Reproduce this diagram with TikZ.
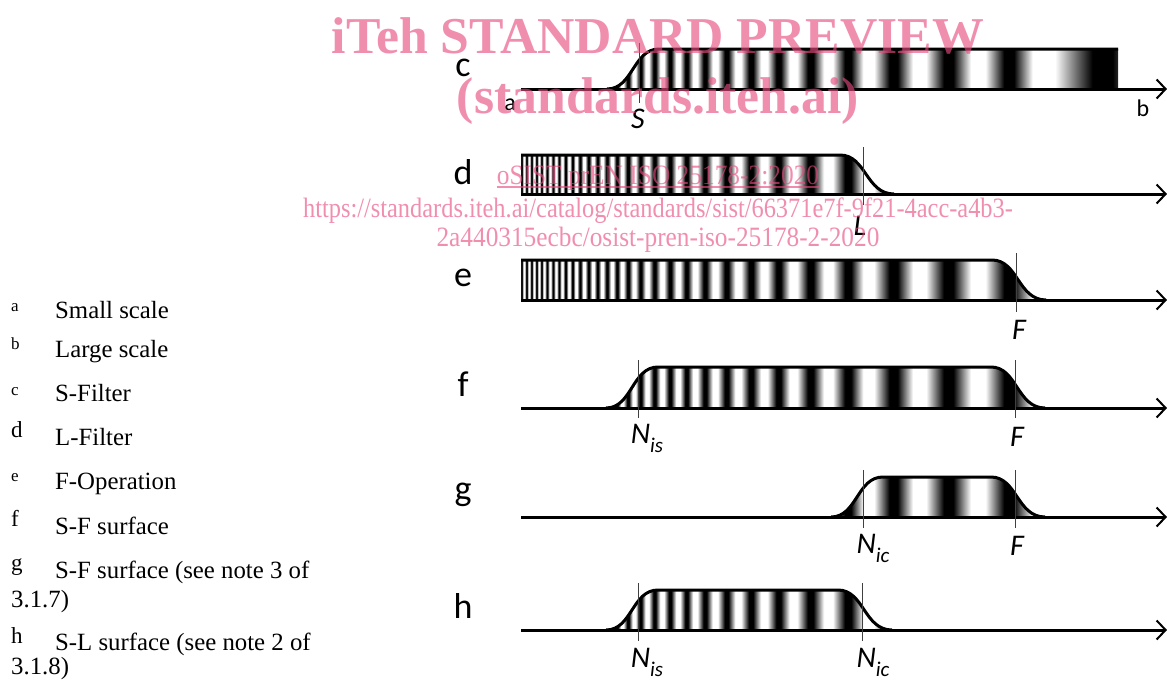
\documentclass[tikz,border=0pt]{standalone}
\usepackage{xcolor}
\usepackage{graphicx}
\usepackage{fontspec}
\usepackage{tikz}
\usetikzlibrary{arrows.meta}
\setmainfont{Liberation Serif}
\newfontfamily\labelfont{Carlito}
\definecolor{MarkPink}{HTML}{E84C7F}
\pgfdeclarehorizontalshading{period}{100bp}{color(0bp)=(white); color(31bp)=(white); color(46bp)=(black); color(54bp)=(black); color(69bp)=(white); color(100bp)=(white)}
\tikzset{
  axisline/.style={line width=3pt, -{Straight Barb[length=9pt,width=19pt,line width=2pt]}},
  profile/.style={line width=3pt, line join=round},
  tickline/.style={line width=0.7pt, black!75},
  panelname/.style={font=\labelfont\fontsize{36}{36}\selectfont, inner sep=0pt},
  scalename/.style={font=\labelfont\fontsize{24}{24}\selectfont, inner sep=0pt},
  ticklabel/.style={font=\labelfont\itshape\fontsize{30}{30}\selectfont, inner sep=0pt},
  keyletter/.style={anchor=base west, inner sep=0pt},
  keytext/.style={anchor=base west, inner sep=0pt, font=\fontsize{24.8}{24.8}\selectfont},
  markbig/.style={MarkPink, text opacity=0.63, inner sep=0pt, anchor=base, font=\bfseries\fontsize{51.7}{51.7}\selectfont},
  marksmall/.style={MarkPink, text opacity=0.63, inner sep=0pt, anchor=base, font=\fontsize{28}{28}\selectfont},
}
\newcommand{\riseup}[1]{(#1-32,\ybase) .. controls (#1-6,\ybase) and (#1-6,\ytop) .. (#1+20,\ytop)}
\newcommand{\falldown}[1]{(#1-24,\ytop) .. controls (#1+2,\ytop) and (#1+2,\ybase) .. (#1+30,\ybase)}
\newcommand{\subis}[1]{N\raisebox{-0.3em}{\fontsize{21}{21}\selectfont #1}}
% #1 top, #2 base, #3 region of the surface, #4 its outline
\newcommand{\surface}[4]{
  \def\ytop{#1}\def\ybase{#2}
  \begin{scope}
    \clip #3;
    \foreach \xw [remember=\xw as \xp (initially 519)] in {524,529,534,539,544,550,556,562,569,576,584,593,602,612,622,634,647,662,678,695,715,738,764,793,828,868,919,978,1040,1165}{
      \shade[shading=period] (\xp,#1) rectangle (\xw,#2);
    }
  \end{scope}
  \draw[profile] #4;
}

\begin{document}
\begin{tikzpicture}[x=1pt,y=-1pt]
  \useasboundingbox (0,0) rectangle (1167,680);

  % key
  \foreach \nm/\sz/\ly/\ty/\txt in {a/17/311/318/Small scale, b/17/349/357/Large scale, c/17/395/401/S-Filter, d/23/437/445/L-Filter, e/17/481/489/F-Operation, f/23/526/534/S-F surface, g/23/570/578/S-F surface (see note 3 of, h/23/643/650/S-L surface (see note 2 of}{
    \node[keyletter, font=\fontsize{\sz}{\sz}\selectfont] (key\nm) at (11,\ly) {\nm};
    \node[keytext] (text\nm) at (55,\ty) {\txt};
  }
  \node[keytext] (textgmore) at (11,607) {3.1.7)};
  \node[keytext] (texthmore) at (11,674) {3.1.8)};

  % surfaces
  \surface{49}{89}{\riseup{639} -- (1118,\ytop) -- (1118,\ybase)}{\riseup{639} -- (1118,\ytop)}
  \surface{155}{194}{(521,\ybase) -- (521,\ytop) -- \falldown{864}}{(521,\ytop) -- \falldown{864}}
  \surface{260}{300}{(521,\ybase) -- (521,\ytop) -- \falldown{1016}}{(521,\ytop) -- \falldown{1016}}
  \surface{367}{408}{\riseup{638} -- \falldown{1015}}{\riseup{638} -- \falldown{1015}}
  \surface{477}{517}{\riseup{863} -- \falldown{1015}}{\riseup{863} -- \falldown{1015}}
  \surface{590}{630}{\riseup{638} -- \falldown{862}}{\riseup{638} -- \falldown{862}}

  % axes
  \foreach \nm/\yy in {c/89,d/194,e/300,f/408,g/517,h/630}{
    \coordinate (\nm start) at (521,\yy);
    \coordinate (\nm end) at (1167,\yy);
    \draw[axisline] (\nm start) -- (\nm end);
  }

  % ticks
  \foreach \nm/\xx/\ya/\yb in {cs/639/43/103, dl/863/147/205, ef/1016/253/312, fn/638/360/418, ff/1015/360/418, gn/863/470/528, gf/1015/470/528, hn/638/583/641, hi/862/583/641}{
    \coordinate (\nm top) at (\xx,\ya);
    \coordinate (\nm bot) at (\xx,\yb);
    \draw[tickline] (\nm top) -- (\nm bot);
  }

  % labels
  \foreach \nm/\yy in {c/68,d/172,e/278,f/384,g/495,h/606}{
    \node[panelname] (name\nm) at (463,\yy) {\nm};
  }
  \node[scalename] (small) at (510,105) {a};
  \node[scalename] (large) at (1143,108) {b};
  \node[ticklabel] (lblS) at (638,119) {S};
  \node[ticklabel] (lblL) at (860,226) {L};
  \node[ticklabel] (lblFe) at (1019,330) {F};
  \node[ticklabel] (lblFf) at (1017,437) {F};
  \node[ticklabel] (lblFg) at (1017,546) {F};
  \node[ticklabel] (lblNf) at (647,438) {\subis{is}};
  \node[ticklabel] (lblNg) at (873,548) {\subis{ic}};
  \node[ticklabel] (lblNh) at (647,662) {\subis{is}};
  \node[ticklabel] (lblNi) at (873,662) {\subis{ic}};

  % preview stamp
  \node[markbig] (markone) at (658,53) {iTeh STANDARD PREVIEW};
  \node[markbig] (marktwo) at (658,113) {(standards.iteh.ai)};
  \node[marksmall] (markthree) at (658,184) {\scalebox{0.907}[1]{oSIST prEN ISO 25178-2:2020}};
  \draw[MarkPink, opacity=0.63, line width=1.2pt] ([yshift=-3pt]markthree.base west) -- ([yshift=-3pt]markthree.base east);
  \node[marksmall] (markfour) at (658,217) {\scalebox{0.871}[1]{https://standards.iteh.ai/catalog/standards/sist/66371e7f-9f21-4acc-a4b3-}};
  \node[marksmall] (markfive) at (658,246) {\scalebox{0.904}[1]{2a440315ecbc/osist-pren-iso-25178-2-2020}};
\end{tikzpicture}
\end{document}
